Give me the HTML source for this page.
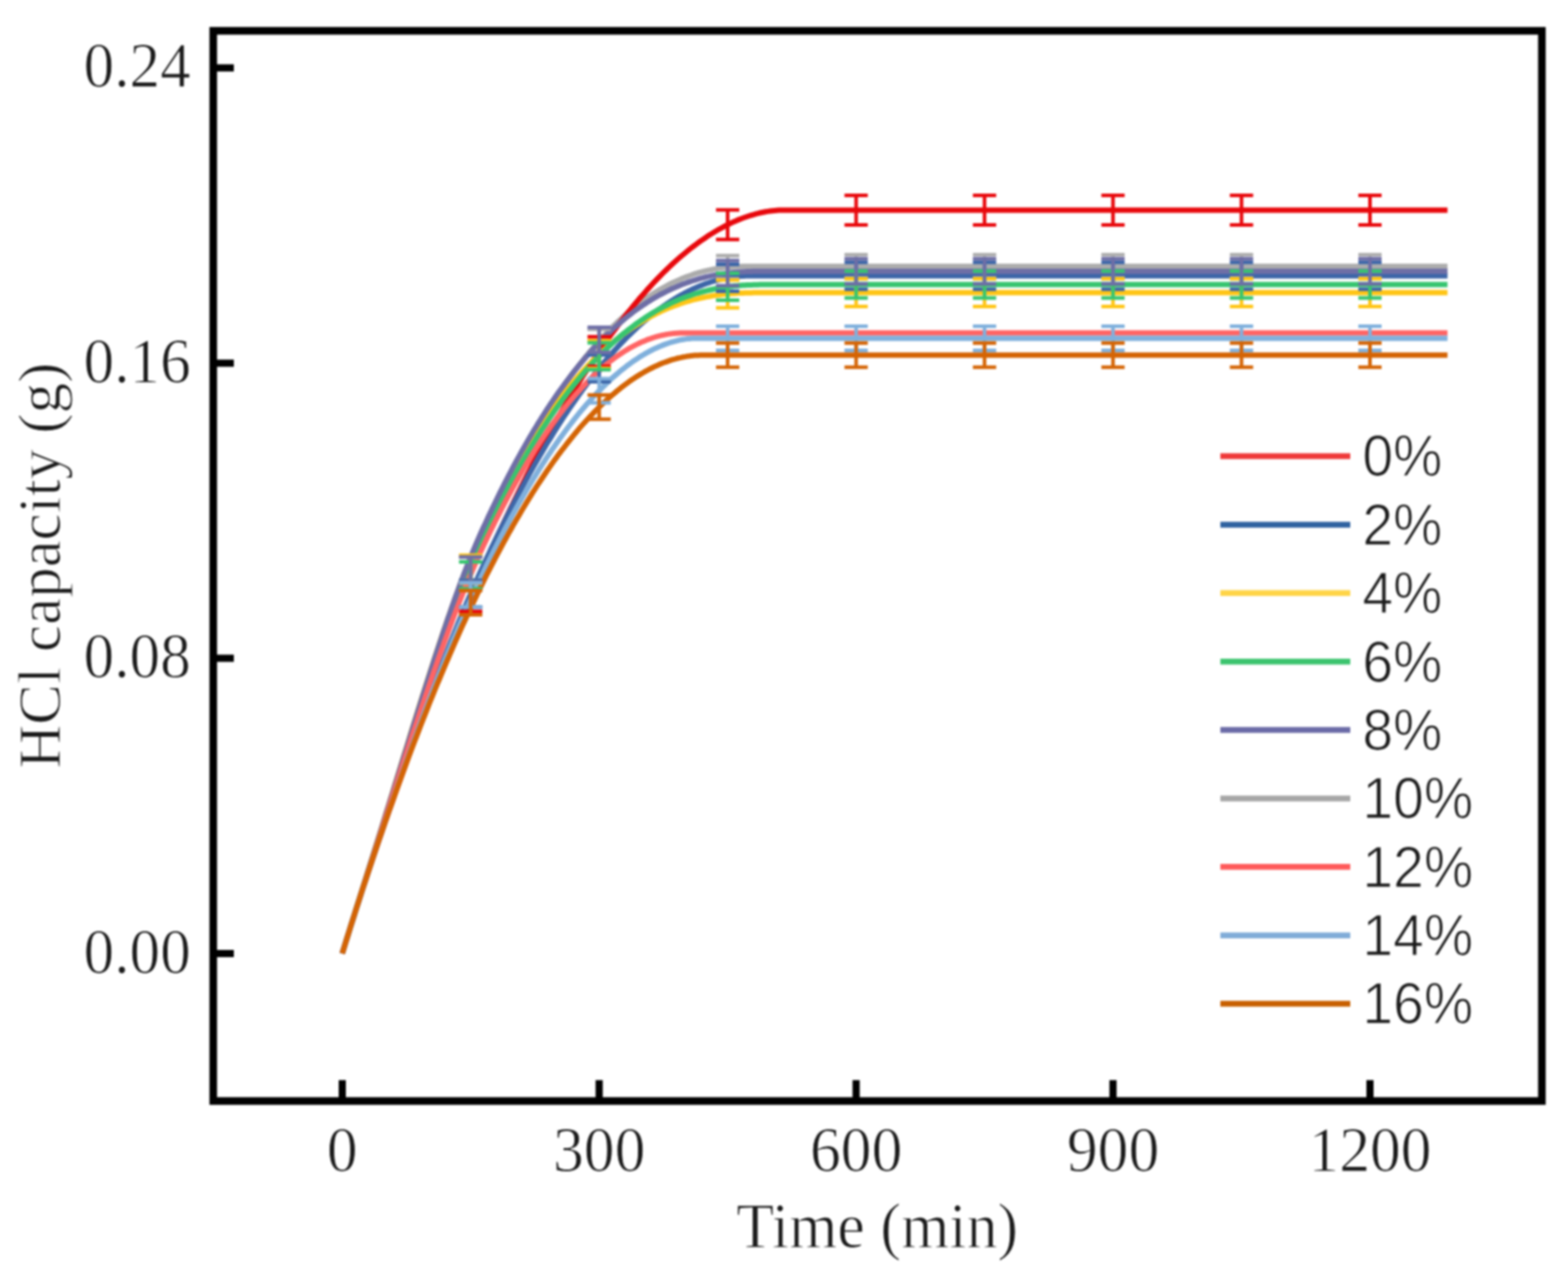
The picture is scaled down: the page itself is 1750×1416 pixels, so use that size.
<!DOCTYPE html>
<html><head><meta charset="utf-8"><title>HCl capacity vs time</title>
<style>html,body{margin:0;padding:0;background:#fff;}body{width:1750px;height:1416px;overflow:hidden;}svg{display:block;filter:blur(0.8px);}</style>
</head><body>
<svg width="1750" height="1416" viewBox="0 0 1750 1416">
<rect x="0" y="0" width="1750" height="1416" fill="#fff"/>
<g fill="none" stroke-linejoin="round" stroke-linecap="butt">
<path d="M382.0,1063.9 L384.2,1056.6 L386.5,1049.3 L388.7,1042.1 L391.0,1034.9 L393.2,1027.7 L395.5,1020.6 L397.8,1013.4 L400.0,1006.3 L402.3,999.2 L404.5,992.1 L406.8,985.0 L409.0,977.9 L411.3,970.8 L413.5,963.7 L415.8,956.6 L418.1,949.5 L420.3,942.5 L422.6,935.4 L424.8,928.3 L427.1,921.2 L429.3,914.1 L431.6,907.0 L433.8,899.9 L436.1,892.8 L438.4,885.7 L440.6,878.6 L442.9,871.5 L445.1,864.4 L447.4,857.3 L449.6,850.2 L451.9,843.1 L454.1,836.0 L456.4,829.0 L458.7,821.9 L460.9,814.8 L463.2,807.8 L465.4,800.8 L467.7,793.7 L469.9,786.7 L472.2,779.8 L474.4,772.8 L476.7,765.9 L479.0,759.0 L481.2,752.1 L483.5,745.3 L485.7,738.5 L488.0,731.7 L490.2,725.0 L492.5,718.3 L494.7,711.7 L497.0,705.1 L499.3,698.6 L501.5,692.2 L503.8,685.8 L506.0,679.4 L508.3,673.2 L510.5,667.0 L512.8,660.9 L515.0,654.8 L517.3,648.9 L519.6,643.0 L521.8,637.2 L524.1,631.5 L526.3,625.9 L528.6,620.4 L530.8,615.1 L533.1,609.8 L535.4,604.6 L537.6,599.5 L539.9,594.5 L542.1,589.5 L544.4,584.5 L546.6,579.6 L548.9,574.7 L551.1,569.9 L553.4,565.1 L555.7,560.4 L557.9,555.7 L560.2,551.1 L562.4,546.5 L564.7,541.9 L566.9,537.4 L569.2,533.0 L571.4,528.6 L573.7,524.2 L576.0,519.9 L578.2,515.6 L580.5,511.4 L582.7,507.2 L585.0,503.1 L587.2,499.0 L589.5,494.9 L591.7,490.9 L594.0,487.0 L596.3,483.1 L598.5,479.2 L600.8,475.4 L603.0,471.6 L605.3,467.8 L607.5,464.2 L609.8,460.5 L612.0,456.9 L614.3,453.3 L616.6,449.8 L618.8,446.3 L621.1,442.9 L623.3,439.5 L625.6,436.2 L627.8,432.9 L630.1,429.6 L632.3,426.4 L634.6,423.3 L636.9,420.1 L639.1,417.0 L641.4,414.0 L643.6,411.0 L645.9,408.0 L648.1,405.1 L650.4,402.3 L652.7,399.4 L654.9,396.6 L657.2,393.9 L659.4,391.2 L661.7,388.5 L663.9,385.9 L666.2,383.3 L668.4,380.8 L670.7,378.3 L673.0,375.8 L675.2,373.4 L677.5,371.1 L679.7,368.7 L682.0,366.4 L684.2,364.2 L686.5,362.0 L688.7,359.8 L691.0,357.7 L693.3,355.6 L695.5,353.6 L697.8,351.5 L700.0,349.6 L702.3,347.6 L704.5,345.8 L706.8,343.9 L709.0,342.1 L711.3,340.3 L713.6,338.6 L715.8,336.9 L718.1,335.2 L720.3,333.6 L722.6,332.0 L724.8,330.5 L727.1,329.0 L729.3,327.5 L731.6,326.1 L733.9,324.7 L736.1,323.4 L738.4,322.1 L740.6,320.8 L742.9,319.5 L745.1,318.3 L747.4,317.2 L749.6,316.0 L751.9,314.9 L754.2,313.9 L756.4,312.9 L758.7,311.9 L760.9,310.9 L763.2,310.0 L765.4,309.1 L767.7,308.3 L770.0,307.5 L772.2,306.7 L774.5,305.9 L776.7,305.2 L779.0,304.5 L781.2,303.9 L783.5,303.3 L785.7,302.7 L788.0,302.2 L790.3,301.6 L792.5,301.2 L794.8,300.7 L797.0,300.3 L799.3,299.9 L801.5,299.5 L803.8,299.2 L806.0,298.9 L808.3,298.6 L810.6,298.4 L812.8,298.1 L815.1,298.0 L817.3,297.8 L819.6,297.7 L821.8,297.5 L824.1,297.5 L826.3,297.4 L828.6,297.3 L830.9,297.3 L833.1,297.3 L1615.5,297.3" stroke="#acacac" stroke-width="6.0"/>
<path d="M382.0,1063.9 L384.4,1055.9 L386.9,1048.0 L389.3,1040.2 L391.8,1032.3 L394.3,1024.6 L396.7,1016.9 L399.2,1009.2 L401.7,1001.6 L404.1,994.0 L406.6,986.4 L409.0,979.0 L411.5,971.5 L414.0,964.1 L416.4,956.8 L418.9,949.5 L421.3,942.2 L423.8,935.0 L426.3,927.8 L428.7,920.6 L431.2,913.5 L433.6,906.5 L436.1,899.5 L438.6,892.5 L441.0,885.5 L443.5,878.6 L446.0,871.7 L448.4,864.9 L450.9,858.1 L453.3,851.3 L455.8,844.5 L458.3,837.8 L460.7,831.1 L463.2,824.5 L465.6,817.9 L468.1,811.3 L470.6,804.7 L473.0,798.1 L475.5,791.6 L477.9,785.1 L480.4,778.7 L482.9,772.2 L485.3,765.8 L487.8,759.4 L490.3,753.1 L492.7,746.7 L495.2,740.4 L497.6,734.2 L500.1,727.9 L502.6,721.7 L505.0,715.5 L507.5,709.4 L509.9,703.2 L512.4,697.2 L514.9,691.1 L517.3,685.1 L519.8,679.1 L522.3,673.2 L524.7,667.3 L527.2,661.5 L529.6,655.7 L532.1,650.0 L534.6,644.3 L537.0,638.7 L539.5,633.1 L541.9,627.5 L544.4,622.0 L546.9,616.5 L549.3,611.1 L551.8,605.7 L554.2,600.3 L556.7,595.0 L559.2,589.7 L561.6,584.5 L564.1,579.2 L566.6,574.1 L569.0,568.9 L571.5,563.8 L573.9,558.8 L576.4,553.7 L578.9,548.7 L581.3,543.8 L583.8,538.8 L586.2,534.0 L588.7,529.1 L591.2,524.3 L593.6,519.5 L596.1,514.8 L598.6,510.1 L601.0,505.5 L603.5,500.8 L605.9,496.3 L608.4,491.7 L610.9,487.2 L613.3,482.7 L615.8,478.3 L618.2,473.9 L620.7,469.6 L623.2,465.2 L625.6,461.0 L628.1,456.7 L630.5,452.5 L633.0,448.4 L635.5,444.2 L637.9,440.1 L640.4,436.1 L642.9,432.1 L645.3,428.1 L647.8,424.2 L650.2,420.3 L652.7,416.4 L655.2,412.6 L657.6,408.8 L660.1,405.1 L662.5,401.4 L665.0,397.7 L667.5,394.1 L669.9,390.5 L672.4,386.9 L674.9,383.4 L677.3,379.9 L679.8,376.5 L682.2,373.1 L684.7,369.7 L687.2,366.4 L689.6,363.1 L692.1,359.9 L694.5,356.7 L697.0,353.5 L699.5,350.4 L701.9,347.3 L704.4,344.3 L706.8,341.3 L709.3,338.3 L711.8,335.4 L714.2,332.5 L716.7,329.7 L719.2,326.9 L721.6,324.1 L724.1,321.4 L726.5,318.7 L729.0,316.0 L731.5,313.4 L733.9,310.9 L736.4,308.3 L738.8,305.9 L741.3,303.4 L743.8,301.0 L746.2,298.6 L748.7,296.3 L751.1,294.0 L753.6,291.8 L756.1,289.6 L758.5,287.4 L761.0,285.3 L763.5,283.2 L765.9,281.2 L768.4,279.2 L770.8,277.2 L773.3,275.3 L775.8,273.5 L778.2,271.6 L780.7,269.8 L783.1,268.1 L785.6,266.4 L788.1,264.7 L790.5,263.1 L793.0,261.5 L795.5,260.0 L797.9,258.5 L800.4,257.0 L802.8,255.6 L805.3,254.3 L807.8,253.0 L810.2,251.7 L812.7,250.4 L815.1,249.3 L817.6,248.1 L820.1,247.0 L822.5,245.9 L825.0,244.9 L827.4,244.0 L829.9,243.0 L832.4,242.2 L834.8,241.3 L837.3,240.5 L839.8,239.8 L842.2,239.1 L844.7,238.4 L847.1,237.8 L849.6,237.3 L852.1,236.8 L854.5,236.3 L857.0,235.9 L859.4,235.5 L861.9,235.2 L864.4,235.0 L866.8,234.8 L869.3,234.6 L871.8,234.5 L874.2,234.5 L1615.5,234.5" stroke="#e8080c" stroke-width="6.0"/>
<path d="M382.0,1063.9 L384.2,1056.5 L386.5,1049.2 L388.8,1041.9 L391.1,1034.7 L393.3,1027.5 L395.6,1020.3 L397.9,1013.2 L400.2,1006.1 L402.4,999.0 L404.7,992.0 L407.0,985.0 L409.3,978.0 L411.5,971.1 L413.8,964.2 L416.1,957.3 L418.4,950.5 L420.6,943.7 L422.9,936.9 L425.2,930.2 L427.5,923.4 L429.7,916.8 L432.0,910.1 L434.3,903.5 L436.6,896.9 L438.8,890.3 L441.1,883.7 L443.4,877.2 L445.7,870.7 L447.9,864.2 L450.2,857.8 L452.5,851.4 L454.8,845.0 L457.0,838.6 L459.3,832.3 L461.6,826.0 L463.9,819.7 L466.1,813.5 L468.4,807.3 L470.7,801.1 L473.0,794.9 L475.2,788.8 L477.5,782.7 L479.8,776.6 L482.1,770.6 L484.3,764.6 L486.6,758.6 L488.9,752.6 L491.2,746.7 L493.4,740.8 L495.7,735.0 L498.0,729.2 L500.3,723.4 L502.5,717.7 L504.8,712.0 L507.1,706.3 L509.4,700.7 L511.6,695.2 L513.9,689.6 L516.2,684.1 L518.5,678.7 L520.7,673.3 L523.0,668.0 L525.3,662.7 L527.6,657.5 L529.8,652.3 L532.1,647.2 L534.4,642.1 L536.7,637.1 L538.9,632.1 L541.2,627.2 L543.5,622.3 L545.8,617.4 L548.0,612.6 L550.3,607.8 L552.6,603.1 L554.9,598.4 L557.1,593.7 L559.4,589.1 L561.7,584.5 L564.0,579.9 L566.2,575.4 L568.5,570.9 L570.8,566.5 L573.0,562.1 L575.3,557.7 L577.6,553.4 L579.9,549.1 L582.1,544.8 L584.4,540.6 L586.7,536.4 L589.0,532.3 L591.2,528.2 L593.5,524.1 L595.8,520.1 L598.1,516.1 L600.3,512.2 L602.6,508.3 L604.9,504.4 L607.2,500.5 L609.4,496.7 L611.7,493.0 L614.0,489.3 L616.3,485.6 L618.5,481.9 L620.8,478.3 L623.1,474.7 L625.4,471.2 L627.6,467.7 L629.9,464.2 L632.2,460.8 L634.5,457.4 L636.7,454.1 L639.0,450.8 L641.3,447.5 L643.6,444.3 L645.8,441.1 L648.1,437.9 L650.4,434.8 L652.7,431.7 L654.9,428.7 L657.2,425.7 L659.5,422.7 L661.8,419.8 L664.0,416.9 L666.3,414.0 L668.6,411.2 L670.9,408.4 L673.1,405.7 L675.4,403.0 L677.7,400.3 L680.0,397.7 L682.2,395.1 L684.5,392.6 L686.8,390.0 L689.1,387.6 L691.3,385.1 L693.6,382.7 L695.9,380.4 L698.2,378.0 L700.4,375.7 L702.7,373.5 L705.0,371.3 L707.3,369.1 L709.5,367.0 L711.8,364.9 L714.1,362.8 L716.4,360.8 L718.6,358.8 L720.9,356.9 L723.2,355.0 L725.5,353.1 L727.7,351.2 L730.0,349.5 L732.3,347.7 L734.6,346.0 L736.8,344.3 L739.1,342.6 L741.4,341.0 L743.7,339.5 L745.9,337.9 L748.2,336.4 L750.5,335.0 L752.8,333.6 L755.0,332.2 L757.3,330.8 L759.6,329.5 L761.9,328.3 L764.1,327.0 L766.4,325.9 L768.7,324.7 L771.0,323.6 L773.2,322.5 L775.5,321.5 L777.8,320.5 L780.1,319.5 L782.3,318.6 L784.6,317.7 L786.9,316.8 L789.2,316.0 L791.4,315.3 L793.7,314.5 L796.0,313.8 L798.3,313.2 L800.5,312.5 L802.8,311.9 L805.1,311.4 L807.4,310.9 L809.6,310.4 L811.9,310.0 L814.2,309.6 L816.5,309.2 L818.7,308.9 L821.0,308.6 L823.3,308.4 L825.6,308.2 L827.8,308.0 L830.1,307.9 L832.4,307.8 L834.7,307.7 L836.9,307.7 L1615.5,307.7" stroke="#3d66a8" stroke-width="6.0"/>
<path d="M382.0,1063.9 L384.3,1056.3 L386.6,1048.8 L389.0,1041.3 L391.3,1033.8 L393.7,1026.3 L396.0,1018.9 L398.4,1011.4 L400.7,1004.0 L403.0,996.6 L405.4,989.1 L407.7,981.7 L410.1,974.2 L412.4,966.8 L414.7,959.3 L417.1,951.9 L419.4,944.4 L421.8,936.9 L424.1,929.4 L426.5,921.9 L428.8,914.3 L431.1,906.8 L433.5,899.3 L435.8,891.7 L438.2,884.1 L440.5,876.6 L442.8,869.0 L445.2,861.4 L447.5,853.8 L449.9,846.2 L452.2,838.7 L454.6,831.1 L456.9,823.5 L459.2,816.0 L461.6,808.5 L463.9,801.0 L466.3,793.5 L468.6,786.0 L470.9,778.6 L473.3,771.2 L475.6,763.8 L478.0,756.5 L480.3,749.2 L482.7,741.9 L485.0,734.7 L487.3,727.6 L489.7,720.5 L492.0,713.5 L494.4,706.6 L496.7,699.7 L499.0,692.9 L501.4,686.2 L503.7,679.5 L506.1,673.0 L508.4,666.5 L510.8,660.2 L513.1,653.9 L515.4,647.7 L517.8,641.7 L520.1,635.7 L522.5,629.9 L524.8,624.2 L527.2,618.6 L529.5,613.1 L531.8,607.8 L534.2,602.6 L536.5,597.5 L538.9,592.5 L541.2,587.5 L543.5,582.6 L545.9,577.7 L548.2,572.9 L550.6,568.2 L552.9,563.5 L555.3,558.9 L557.6,554.3 L559.9,549.8 L562.3,545.3 L564.6,540.9 L567.0,536.5 L569.3,532.2 L571.6,527.9 L574.0,523.7 L576.3,519.6 L578.7,515.5 L581.0,511.4 L583.4,507.4 L585.7,503.5 L588.0,499.6 L590.4,495.8 L592.7,492.0 L595.1,488.3 L597.4,484.6 L599.7,480.9 L602.1,477.4 L604.4,473.8 L606.8,470.4 L609.1,466.9 L611.5,463.5 L613.8,460.2 L616.1,456.9 L618.5,453.7 L620.8,450.5 L623.2,447.4 L625.5,444.3 L627.8,441.2 L630.2,438.2 L632.5,435.3 L634.9,432.4 L637.2,429.5 L639.6,426.7 L641.9,424.0 L644.2,421.3 L646.6,418.6 L648.9,416.0 L651.3,413.4 L653.6,410.9 L655.9,408.4 L658.3,405.9 L660.6,403.6 L663.0,401.2 L665.3,398.9 L667.7,396.6 L670.0,394.4 L672.3,392.2 L674.7,390.1 L677.0,388.0 L679.4,385.9 L681.7,383.9 L684.1,381.9 L686.4,380.0 L688.7,378.1 L691.1,376.3 L693.4,374.5 L695.8,372.7 L698.1,371.0 L700.4,369.3 L702.8,367.6 L705.1,366.0 L707.5,364.5 L709.8,362.9 L712.2,361.4 L714.5,360.0 L716.8,358.6 L719.2,357.2 L721.5,355.8 L723.9,354.5 L726.2,353.2 L728.5,352.0 L730.9,350.8 L733.2,349.6 L735.6,348.5 L737.9,347.4 L740.3,346.3 L742.6,345.3 L744.9,344.3 L747.3,343.3 L749.6,342.4 L752.0,341.5 L754.3,340.6 L756.6,339.8 L759.0,339.0 L761.3,338.2 L763.7,337.4 L766.0,336.7 L768.4,336.0 L770.7,335.4 L773.0,334.7 L775.4,334.1 L777.7,333.6 L780.1,333.0 L782.4,332.5 L784.7,332.0 L787.1,331.5 L789.4,331.1 L791.8,330.7 L794.1,330.3 L796.5,329.9 L798.8,329.5 L801.1,329.2 L803.5,328.9 L805.8,328.6 L808.2,328.4 L810.5,328.1 L812.8,327.9 L815.2,327.7 L817.5,327.5 L819.9,327.4 L822.2,327.2 L824.6,327.1 L826.9,327.0 L829.2,326.9 L831.6,326.8 L833.9,326.8 L836.3,326.7 L838.6,326.7 L840.9,326.6 L843.3,326.6 L845.6,326.6 L848.0,326.6 L850.3,326.6 L1615.5,326.6" stroke="#ffc515" stroke-width="6.0"/>
<path d="M382.0,1063.9 L384.3,1056.2 L386.7,1048.6 L389.1,1041.1 L391.4,1033.5 L393.8,1026.0 L396.2,1018.5 L398.5,1011.0 L400.9,1003.5 L403.3,996.0 L405.6,988.6 L408.0,981.1 L410.3,973.7 L412.7,966.2 L415.1,958.8 L417.4,951.3 L419.8,943.9 L422.2,936.4 L424.5,929.0 L426.9,921.5 L429.3,914.1 L431.6,906.6 L434.0,899.2 L436.4,891.7 L438.7,884.3 L441.1,876.8 L443.5,869.4 L445.8,861.9 L448.2,854.5 L450.6,847.1 L452.9,839.6 L455.3,832.2 L457.7,824.8 L460.0,817.5 L462.4,810.1 L464.8,802.8 L467.1,795.5 L469.5,788.2 L471.9,780.9 L474.2,773.7 L476.6,766.5 L479.0,759.4 L481.3,752.3 L483.7,745.2 L486.0,738.2 L488.4,731.2 L490.8,724.3 L493.1,717.5 L495.5,710.7 L497.9,704.0 L500.2,697.3 L502.6,690.7 L505.0,684.2 L507.3,677.8 L509.7,671.5 L512.1,665.2 L514.4,659.1 L516.8,653.0 L519.2,647.0 L521.5,641.1 L523.9,635.4 L526.3,629.7 L528.6,624.1 L531.0,618.7 L533.4,613.4 L535.7,608.2 L538.1,603.0 L540.5,597.9 L542.8,592.9 L545.2,587.9 L547.6,583.0 L549.9,578.1 L552.3,573.3 L554.7,568.5 L557.0,563.8 L559.4,559.2 L561.8,554.6 L564.1,550.0 L566.5,545.5 L568.8,541.0 L571.2,536.6 L573.6,532.3 L575.9,528.0 L578.3,523.7 L580.7,519.5 L583.0,515.4 L585.4,511.3 L587.8,507.2 L590.1,503.2 L592.5,499.3 L594.9,495.3 L597.2,491.5 L599.6,487.7 L602.0,483.9 L604.3,480.2 L606.7,476.6 L609.1,473.0 L611.4,469.4 L613.8,465.9 L616.2,462.4 L618.5,459.0 L620.9,455.6 L623.3,452.3 L625.6,449.0 L628.0,445.8 L630.4,442.6 L632.7,439.5 L635.1,436.4 L637.5,433.4 L639.8,430.4 L642.2,427.4 L644.6,424.5 L646.9,421.6 L649.3,418.8 L651.6,416.1 L654.0,413.3 L656.4,410.7 L658.7,408.0 L661.1,405.4 L663.5,402.9 L665.8,400.4 L668.2,397.9 L670.6,395.5 L672.9,393.1 L675.3,390.8 L677.7,388.5 L680.0,386.3 L682.4,384.0 L684.8,381.9 L687.1,379.8 L689.5,377.7 L691.9,375.6 L694.2,373.6 L696.6,371.7 L699.0,369.8 L701.3,367.9 L703.7,366.1 L706.1,364.3 L708.4,362.5 L710.8,360.8 L713.2,359.1 L715.5,357.5 L717.9,355.9 L720.3,354.3 L722.6,352.8 L725.0,351.3 L727.3,349.8 L729.7,348.4 L732.1,347.0 L734.4,345.7 L736.8,344.4 L739.2,343.1 L741.5,341.9 L743.9,340.7 L746.3,339.5 L748.6,338.4 L751.0,337.3 L753.4,336.3 L755.7,335.2 L758.1,334.2 L760.5,333.3 L762.8,332.4 L765.2,331.5 L767.6,330.6 L769.9,329.8 L772.3,329.0 L774.7,328.2 L777.0,327.5 L779.4,326.8 L781.8,326.1 L784.1,325.5 L786.5,324.9 L788.9,324.3 L791.2,323.7 L793.6,323.2 L796.0,322.7 L798.3,322.2 L800.7,321.8 L803.1,321.3 L805.4,321.0 L807.8,320.6 L810.1,320.2 L812.5,319.9 L814.9,319.6 L817.2,319.4 L819.6,319.1 L822.0,318.9 L824.3,318.7 L826.7,318.5 L829.1,318.3 L831.4,318.2 L833.8,318.0 L836.2,317.9 L838.5,317.9 L840.9,317.8 L843.3,317.7 L845.6,317.7 L848.0,317.6 L850.4,317.6 L852.7,317.6 L855.1,317.6 L1615.5,317.6" stroke="#37c56f" stroke-width="6.0"/>
<path d="M382.0,1063.9 L384.3,1056.3 L386.7,1048.7 L389.0,1041.2 L391.4,1033.7 L393.7,1026.2 L396.1,1018.7 L398.4,1011.2 L400.8,1003.8 L403.1,996.3 L405.5,988.9 L407.8,981.4 L410.2,974.0 L412.5,966.5 L414.9,959.0 L417.2,951.6 L419.6,944.1 L421.9,936.6 L424.3,929.1 L426.6,921.6 L429.0,914.0 L431.3,906.5 L433.7,898.9 L436.0,891.4 L438.4,883.8 L440.7,876.2 L443.1,868.6 L445.4,861.0 L447.8,853.5 L450.1,845.9 L452.5,838.3 L454.9,830.7 L457.2,823.1 L459.6,815.5 L461.9,808.0 L464.3,800.4 L466.6,792.9 L469.0,785.4 L471.3,777.9 L473.7,770.5 L476.0,763.1 L478.4,755.7 L480.7,748.3 L483.1,741.0 L485.4,733.7 L487.8,726.5 L490.1,719.4 L492.5,712.3 L494.8,705.2 L497.2,698.2 L499.5,691.3 L501.9,684.5 L504.2,677.8 L506.6,671.1 L508.9,664.5 L511.3,658.0 L513.6,651.6 L516.0,645.3 L518.3,639.1 L520.7,633.0 L523.0,627.1 L525.4,621.2 L527.7,615.5 L530.1,609.9 L532.4,604.4 L534.8,599.1 L537.1,593.8 L539.5,588.6 L541.9,583.5 L544.2,578.4 L546.6,573.4 L548.9,568.4 L551.3,563.5 L553.6,558.7 L556.0,553.8 L558.3,549.1 L560.7,544.4 L563.0,539.7 L565.4,535.1 L567.7,530.6 L570.1,526.1 L572.4,521.7 L574.8,517.3 L577.1,512.9 L579.5,508.6 L581.8,504.4 L584.2,500.2 L586.5,496.1 L588.9,492.0 L591.2,488.0 L593.6,484.0 L595.9,480.1 L598.3,476.2 L600.6,472.4 L603.0,468.6 L605.3,464.8 L607.7,461.2 L610.0,457.5 L612.4,453.9 L614.7,450.4 L617.1,446.9 L619.4,443.5 L621.8,440.1 L624.1,436.8 L626.5,433.5 L628.9,430.2 L631.2,427.0 L633.6,423.9 L635.9,420.8 L638.3,417.7 L640.6,414.7 L643.0,411.7 L645.3,408.8 L647.7,406.0 L650.0,403.1 L652.4,400.3 L654.7,397.6 L657.1,394.9 L659.4,392.3 L661.8,389.7 L664.1,387.1 L666.5,384.6 L668.8,382.1 L671.2,379.7 L673.5,377.3 L675.9,375.0 L678.2,372.7 L680.6,370.5 L682.9,368.3 L685.3,366.1 L687.6,364.0 L690.0,361.9 L692.3,359.9 L694.7,357.9 L697.0,355.9 L699.4,354.0 L701.7,352.1 L704.1,350.3 L706.4,348.5 L708.8,346.7 L711.1,345.0 L713.5,343.4 L715.9,341.7 L718.2,340.1 L720.6,338.6 L722.9,337.1 L725.3,335.6 L727.6,334.1 L730.0,332.7 L732.3,331.4 L734.7,330.0 L737.0,328.7 L739.4,327.5 L741.7,326.3 L744.1,325.1 L746.4,323.9 L748.8,322.8 L751.1,321.7 L753.5,320.7 L755.8,319.7 L758.2,318.7 L760.5,317.8 L762.9,316.8 L765.2,316.0 L767.6,315.1 L769.9,314.3 L772.3,313.5 L774.6,312.8 L777.0,312.1 L779.3,311.4 L781.7,310.7 L784.0,310.1 L786.4,309.5 L788.7,308.9 L791.1,308.4 L793.4,307.9 L795.8,307.4 L798.1,306.9 L800.5,306.5 L802.9,306.1 L805.2,305.7 L807.6,305.4 L809.9,305.1 L812.3,304.8 L814.6,304.5 L817.0,304.2 L819.3,304.0 L821.7,303.8 L824.0,303.6 L826.4,303.4 L828.7,303.3 L831.1,303.2 L833.4,303.0 L835.8,303.0 L838.1,302.9 L840.5,302.8 L842.8,302.8 L845.2,302.7 L847.5,302.7 L849.9,302.7 L852.2,302.7 L1615.5,302.7" stroke="#6e6ea6" stroke-width="6.0"/>
<path d="M382.0,1063.9 L383.9,1057.7 L385.8,1051.6 L387.7,1045.5 L389.6,1039.4 L391.5,1033.4 L393.4,1027.3 L395.3,1021.3 L397.2,1015.3 L399.1,1009.3 L401.0,1003.3 L402.9,997.3 L404.8,991.4 L406.7,985.4 L408.6,979.5 L410.5,973.5 L412.4,967.6 L414.3,961.7 L416.2,955.8 L418.1,949.9 L420.0,944.0 L421.9,938.1 L423.8,932.2 L425.7,926.3 L427.6,920.4 L429.5,914.5 L431.4,908.7 L433.3,902.8 L435.2,896.9 L437.1,891.1 L439.0,885.2 L440.9,879.4 L442.8,873.5 L444.7,867.7 L446.6,861.9 L448.5,856.1 L450.4,850.3 L452.3,844.5 L454.2,838.7 L456.1,832.9 L458.0,827.1 L459.9,821.4 L461.8,815.7 L463.8,809.9 L465.7,804.2 L467.6,798.5 L469.5,792.9 L471.4,787.2 L473.3,781.6 L475.2,776.0 L477.1,770.4 L479.0,764.8 L480.9,759.3 L482.8,753.8 L484.7,748.3 L486.6,742.9 L488.5,737.4 L490.4,732.1 L492.3,726.7 L494.2,721.4 L496.1,716.1 L498.0,710.9 L499.9,705.7 L501.8,700.5 L503.7,695.4 L505.6,690.3 L507.5,685.3 L509.4,680.3 L511.3,675.4 L513.2,670.5 L515.1,665.7 L517.0,660.9 L518.9,656.2 L520.8,651.6 L522.7,647.0 L524.6,642.5 L526.5,638.0 L528.4,633.6 L530.3,629.2 L532.2,625.0 L534.1,620.8 L536.0,616.6 L537.9,612.5 L539.8,608.5 L541.7,604.4 L543.6,600.4 L545.5,596.5 L547.4,592.5 L549.3,588.6 L551.2,584.8 L553.1,581.0 L555.1,577.2 L557.0,573.4 L558.9,569.7 L560.8,566.0 L562.7,562.3 L564.6,558.7 L566.5,555.1 L568.4,551.6 L570.3,548.1 L572.2,544.6 L574.1,541.2 L576.0,537.7 L577.9,534.4 L579.8,531.0 L581.7,527.7 L583.6,524.5 L585.5,521.2 L587.4,518.0 L589.3,514.8 L591.2,511.7 L593.1,508.6 L595.0,505.6 L596.9,502.5 L598.8,499.5 L600.7,496.6 L602.6,493.6 L604.5,490.8 L606.4,487.9 L608.3,485.1 L610.2,482.3 L612.1,479.5 L614.0,476.8 L615.9,474.1 L617.8,471.5 L619.7,468.9 L621.6,466.3 L623.5,463.7 L625.4,461.2 L627.3,458.8 L629.2,456.3 L631.1,453.9 L633.0,451.5 L634.9,449.2 L636.8,446.9 L638.7,444.6 L640.6,442.4 L642.5,440.2 L644.5,438.0 L646.4,435.9 L648.3,433.8 L650.2,431.8 L652.1,429.7 L654.0,427.7 L655.9,425.8 L657.8,423.9 L659.7,422.0 L661.6,420.1 L663.5,418.3 L665.4,416.5 L667.3,414.8 L669.2,413.1 L671.1,411.4 L673.0,409.7 L674.9,408.1 L676.8,406.6 L678.7,405.0 L680.6,403.5 L682.5,402.0 L684.4,400.6 L686.3,399.2 L688.2,397.8 L690.1,396.5 L692.0,395.2 L693.9,393.9 L695.8,392.7 L697.7,391.5 L699.6,390.4 L701.5,389.2 L703.4,388.1 L705.3,387.1 L707.2,386.1 L709.1,385.1 L711.0,384.1 L712.9,383.2 L714.8,382.3 L716.7,381.5 L718.6,380.7 L720.5,379.9 L722.4,379.1 L724.3,378.4 L726.2,377.8 L728.1,377.1 L730.0,376.5 L731.9,375.9 L733.8,375.4 L735.8,374.9 L737.7,374.4 L739.6,374.0 L741.5,373.6 L743.4,373.2 L745.3,372.9 L747.2,372.6 L749.1,372.4 L751.0,372.1 L752.9,371.9 L754.8,371.8 L756.7,371.7 L758.6,371.6 L760.5,371.5 L762.4,371.5 L1615.5,371.5" stroke="#ff6464" stroke-width="6.0"/>
<path d="M382.0,1063.9 L383.9,1057.5 L385.9,1051.2 L387.9,1044.8 L389.9,1038.5 L391.8,1032.3 L393.8,1026.0 L395.8,1019.8 L397.8,1013.6 L399.7,1007.5 L401.7,1001.3 L403.7,995.2 L405.6,989.2 L407.6,983.1 L409.6,977.1 L411.6,971.1 L413.5,965.1 L415.5,959.2 L417.5,953.2 L419.5,947.3 L421.4,941.5 L423.4,935.6 L425.4,929.8 L427.4,924.0 L429.3,918.2 L431.3,912.5 L433.3,906.7 L435.3,901.0 L437.2,895.4 L439.2,889.7 L441.2,884.1 L443.1,878.5 L445.1,872.9 L447.1,867.4 L449.1,861.8 L451.0,856.3 L453.0,850.8 L455.0,845.4 L457.0,840.0 L458.9,834.5 L460.9,829.2 L462.9,823.8 L464.9,818.5 L466.8,813.2 L468.8,807.9 L470.8,802.6 L472.8,797.4 L474.7,792.2 L476.7,787.0 L478.7,781.9 L480.6,776.8 L482.6,771.7 L484.6,766.6 L486.6,761.6 L488.5,756.5 L490.5,751.6 L492.5,746.6 L494.5,741.7 L496.4,736.8 L498.4,731.9 L500.4,727.1 L502.4,722.3 L504.3,717.5 L506.3,712.8 L508.3,708.1 L510.3,703.4 L512.2,698.7 L514.2,694.1 L516.2,689.6 L518.2,685.0 L520.1,680.5 L522.1,676.1 L524.1,671.6 L526.0,667.2 L528.0,662.9 L530.0,658.6 L532.0,654.3 L533.9,650.1 L535.9,645.9 L537.9,641.7 L539.9,637.6 L541.8,633.5 L543.8,629.4 L545.8,625.3 L547.8,621.3 L549.7,617.4 L551.7,613.4 L553.7,609.5 L555.7,605.6 L557.6,601.8 L559.6,597.9 L561.6,594.1 L563.5,590.4 L565.5,586.7 L567.5,583.0 L569.5,579.3 L571.4,575.7 L573.4,572.1 L575.4,568.5 L577.4,564.9 L579.3,561.4 L581.3,557.9 L583.3,554.5 L585.3,551.1 L587.2,547.7 L589.2,544.3 L591.2,541.0 L593.2,537.7 L595.1,534.5 L597.1,531.3 L599.1,528.1 L601.1,524.9 L603.0,521.8 L605.0,518.7 L607.0,515.6 L608.9,512.6 L610.9,509.6 L612.9,506.6 L614.9,503.7 L616.8,500.7 L618.8,497.9 L620.8,495.0 L622.8,492.2 L624.7,489.4 L626.7,486.7 L628.7,484.0 L630.7,481.3 L632.6,478.7 L634.6,476.0 L636.6,473.5 L638.6,470.9 L640.5,468.4 L642.5,465.9 L644.5,463.4 L646.4,461.0 L648.4,458.6 L650.4,456.3 L652.4,454.0 L654.3,451.7 L656.3,449.4 L658.3,447.2 L660.3,445.0 L662.2,442.8 L664.2,440.7 L666.2,438.6 L668.2,436.6 L670.1,434.6 L672.1,432.6 L674.1,430.6 L676.1,428.7 L678.0,426.8 L680.0,424.9 L682.0,423.1 L683.9,421.3 L685.9,419.6 L687.9,417.9 L689.9,416.2 L691.8,414.5 L693.8,412.9 L695.8,411.3 L697.8,409.8 L699.7,408.2 L701.7,406.8 L703.7,405.3 L705.7,403.9 L707.6,402.5 L709.6,401.2 L711.6,399.9 L713.6,398.6 L715.5,397.4 L717.5,396.2 L719.5,395.0 L721.5,393.9 L723.4,392.8 L725.4,391.7 L727.4,390.7 L729.3,389.7 L731.3,388.8 L733.3,387.9 L735.3,387.0 L737.2,386.2 L739.2,385.4 L741.2,384.6 L743.2,383.9 L745.1,383.2 L747.1,382.5 L749.1,381.9 L751.1,381.3 L753.0,380.8 L755.0,380.3 L757.0,379.8 L759.0,379.4 L760.9,379.0 L762.9,378.7 L764.9,378.4 L766.8,378.1 L768.8,377.9 L770.8,377.7 L772.8,377.6 L774.7,377.5 L776.7,377.5 L1615.5,377.5" stroke="#80b0dc" stroke-width="6.0"/>
<path d="M382.0,1063.9 L384.0,1057.4 L386.0,1050.9 L388.0,1044.5 L390.0,1038.1 L392.0,1031.7 L394.0,1025.4 L396.0,1019.1 L398.0,1012.8 L400.0,1006.6 L402.0,1000.4 L404.0,994.2 L406.0,988.0 L408.1,981.9 L410.1,975.8 L412.1,969.7 L414.1,963.7 L416.1,957.7 L418.1,951.8 L420.1,945.8 L422.1,939.9 L424.1,934.0 L426.1,928.2 L428.1,922.4 L430.1,916.6 L432.1,910.9 L434.1,905.1 L436.2,899.4 L438.2,893.8 L440.2,888.2 L442.2,882.6 L444.2,877.0 L446.2,871.5 L448.2,866.0 L450.2,860.5 L452.2,855.1 L454.2,849.7 L456.2,844.3 L458.2,838.9 L460.2,833.6 L462.2,828.4 L464.3,823.1 L466.3,817.9 L468.3,812.7 L470.3,807.5 L472.3,802.4 L474.3,797.3 L476.3,792.3 L478.3,787.2 L480.3,782.2 L482.3,777.3 L484.3,772.3 L486.3,767.4 L488.3,762.5 L490.4,757.7 L492.4,752.9 L494.4,748.1 L496.4,743.4 L498.4,738.6 L500.4,734.0 L502.4,729.3 L504.4,724.7 L506.4,720.1 L508.4,715.5 L510.4,711.0 L512.4,706.5 L514.4,702.0 L516.4,697.6 L518.5,693.2 L520.5,688.8 L522.5,684.5 L524.5,680.2 L526.5,675.9 L528.5,671.7 L530.5,667.5 L532.5,663.3 L534.5,659.1 L536.5,655.0 L538.5,650.9 L540.5,646.9 L542.5,642.8 L544.5,638.9 L546.6,634.9 L548.6,631.0 L550.6,627.1 L552.6,623.2 L554.6,619.4 L556.6,615.6 L558.6,611.8 L560.6,608.1 L562.6,604.4 L564.6,600.7 L566.6,597.1 L568.6,593.4 L570.6,589.9 L572.6,586.3 L574.7,582.8 L576.7,579.3 L578.7,575.9 L580.7,572.5 L582.7,569.1 L584.7,565.7 L586.7,562.4 L588.7,559.1 L590.7,555.9 L592.7,552.6 L594.7,549.4 L596.7,546.3 L598.7,543.1 L600.7,540.1 L602.8,537.0 L604.8,534.0 L606.8,531.0 L608.8,528.0 L610.8,525.0 L612.8,522.1 L614.8,519.3 L616.8,516.4 L618.8,513.6 L620.8,510.9 L622.8,508.1 L624.8,505.4 L626.8,502.7 L628.9,500.1 L630.9,497.5 L632.9,494.9 L634.9,492.3 L636.9,489.8 L638.9,487.3 L640.9,484.9 L642.9,482.5 L644.9,480.1 L646.9,477.7 L648.9,475.4 L650.9,473.1 L652.9,470.9 L654.9,468.7 L657.0,466.5 L659.0,464.3 L661.0,462.2 L663.0,460.1 L665.0,458.0 L667.0,456.0 L669.0,454.0 L671.0,452.1 L673.0,450.1 L675.0,448.2 L677.0,446.4 L679.0,444.6 L681.0,442.8 L683.0,441.0 L685.1,439.3 L687.1,437.6 L689.1,435.9 L691.1,434.3 L693.1,432.7 L695.1,431.1 L697.1,429.6 L699.1,428.1 L701.1,426.7 L703.1,425.2 L705.1,423.8 L707.1,422.5 L709.1,421.1 L711.1,419.9 L713.2,418.6 L715.2,417.4 L717.2,416.2 L719.2,415.0 L721.2,413.9 L723.2,412.8 L725.2,411.7 L727.2,410.7 L729.2,409.7 L731.2,408.8 L733.2,407.9 L735.2,407.0 L737.2,406.1 L739.2,405.3 L741.3,404.5 L743.3,403.8 L745.3,403.1 L747.3,402.4 L749.3,401.7 L751.3,401.1 L753.3,400.6 L755.3,400.0 L757.3,399.5 L759.3,399.1 L761.3,398.6 L763.3,398.2 L765.3,397.9 L767.4,397.5 L769.4,397.3 L771.4,397.0 L773.4,396.8 L775.4,396.6 L777.4,396.5 L779.4,396.4 L781.4,396.3 L783.4,396.3 L1615.5,396.3" stroke="#d46404" stroke-width="6.0"/>
</g>
<g fill="none" stroke-linecap="butt">
<path d="M525.3,621.4 V647.4 M512.3,621.4 H538.3 M512.3,647.4 H538.3" stroke="#acacac" stroke-width="4.0"/>
<path d="M668.7,367.5 V393.5 M655.7,367.5 H681.7 M655.7,393.5 H681.7" stroke="#acacac" stroke-width="4.0"/>
<path d="M812.1,285.2 V311.2 M799.1,285.2 H825.1 M799.1,311.2 H825.1" stroke="#acacac" stroke-width="4.0"/>
<path d="M955.5,284.3 V310.3 M942.5,284.3 H968.5 M942.5,310.3 H968.5" stroke="#acacac" stroke-width="4.0"/>
<path d="M1098.8,284.3 V310.3 M1085.8,284.3 H1111.8 M1085.8,310.3 H1111.8" stroke="#acacac" stroke-width="4.0"/>
<path d="M1242.2,284.3 V310.3 M1229.2,284.3 H1255.2 M1229.2,310.3 H1255.2" stroke="#acacac" stroke-width="4.0"/>
<path d="M1385.6,284.3 V310.3 M1372.6,284.3 H1398.6 M1372.6,310.3 H1398.6" stroke="#acacac" stroke-width="4.0"/>
<path d="M1529.0,284.3 V310.3 M1516.0,284.3 H1542.0 M1516.0,310.3 H1542.0" stroke="#acacac" stroke-width="4.0"/>
<path d="M525.3,649.3 V682.3 M512.3,649.3 H538.3 M512.3,682.3 H538.3" stroke="#e8080c" stroke-width="4.0"/>
<path d="M668.7,375.7 V408.7 M655.7,375.7 H681.7 M655.7,408.7 H681.7" stroke="#e8080c" stroke-width="4.0"/>
<path d="M812.1,234.2 V267.2 M799.1,234.2 H825.1 M799.1,267.2 H825.1" stroke="#e8080c" stroke-width="4.0"/>
<path d="M955.5,218.0 V251.0 M942.5,218.0 H968.5 M942.5,251.0 H968.5" stroke="#e8080c" stroke-width="4.0"/>
<path d="M1098.8,218.0 V251.0 M1085.8,218.0 H1111.8 M1085.8,251.0 H1111.8" stroke="#e8080c" stroke-width="4.0"/>
<path d="M1242.2,218.0 V251.0 M1229.2,218.0 H1255.2 M1229.2,251.0 H1255.2" stroke="#e8080c" stroke-width="4.0"/>
<path d="M1385.6,218.0 V251.0 M1372.6,218.0 H1398.6 M1372.6,251.0 H1398.6" stroke="#e8080c" stroke-width="4.0"/>
<path d="M1529.0,218.0 V251.0 M1516.0,218.0 H1542.0 M1516.0,251.0 H1542.0" stroke="#e8080c" stroke-width="4.0"/>
<path d="M525.3,647.6 V677.6 M512.3,647.6 H538.3 M512.3,677.6 H538.3" stroke="#3d66a8" stroke-width="4.0"/>
<path d="M668.7,396.1 V426.1 M655.7,396.1 H681.7 M655.7,426.1 H681.7" stroke="#3d66a8" stroke-width="4.0"/>
<path d="M812.1,294.9 V324.9 M799.1,294.9 H825.1 M799.1,324.9 H825.1" stroke="#3d66a8" stroke-width="4.0"/>
<path d="M955.5,292.7 V322.7 M942.5,292.7 H968.5 M942.5,322.7 H968.5" stroke="#3d66a8" stroke-width="4.0"/>
<path d="M1098.8,292.7 V322.7 M1085.8,292.7 H1111.8 M1085.8,322.7 H1111.8" stroke="#3d66a8" stroke-width="4.0"/>
<path d="M1242.2,292.7 V322.7 M1229.2,292.7 H1255.2 M1229.2,322.7 H1255.2" stroke="#3d66a8" stroke-width="4.0"/>
<path d="M1385.6,292.7 V322.7 M1372.6,292.7 H1398.6 M1372.6,322.7 H1398.6" stroke="#3d66a8" stroke-width="4.0"/>
<path d="M1529.0,292.7 V322.7 M1516.0,292.7 H1542.0 M1516.0,322.7 H1542.0" stroke="#3d66a8" stroke-width="4.0"/>
<path d="M525.3,619.4 V650.4 M512.3,619.4 H538.3 M512.3,650.4 H538.3" stroke="#ffc515" stroke-width="4.0"/>
<path d="M668.7,380.1 V411.1 M655.7,380.1 H681.7 M655.7,411.1 H681.7" stroke="#ffc515" stroke-width="4.0"/>
<path d="M812.1,312.5 V343.5 M799.1,312.5 H825.1 M799.1,343.5 H825.1" stroke="#ffc515" stroke-width="4.0"/>
<path d="M955.5,311.1 V342.1 M942.5,311.1 H968.5 M942.5,342.1 H968.5" stroke="#ffc515" stroke-width="4.0"/>
<path d="M1098.8,311.1 V342.1 M1085.8,311.1 H1111.8 M1085.8,342.1 H1111.8" stroke="#ffc515" stroke-width="4.0"/>
<path d="M1242.2,311.1 V342.1 M1229.2,311.1 H1255.2 M1229.2,342.1 H1255.2" stroke="#ffc515" stroke-width="4.0"/>
<path d="M1385.6,311.1 V342.1 M1372.6,311.1 H1398.6 M1372.6,342.1 H1398.6" stroke="#ffc515" stroke-width="4.0"/>
<path d="M1529.0,311.1 V342.1 M1516.0,311.1 H1542.0 M1516.0,342.1 H1542.0" stroke="#ffc515" stroke-width="4.0"/>
<path d="M525.3,626.9 V656.9 M512.3,626.9 H538.3 M512.3,656.9 H538.3" stroke="#37c56f" stroke-width="4.0"/>
<path d="M668.7,382.4 V412.4 M655.7,382.4 H681.7 M655.7,412.4 H681.7" stroke="#37c56f" stroke-width="4.0"/>
<path d="M812.1,305.0 V335.0 M799.1,305.0 H825.1 M799.1,335.0 H825.1" stroke="#37c56f" stroke-width="4.0"/>
<path d="M955.5,302.6 V332.6 M942.5,302.6 H968.5 M942.5,332.6 H968.5" stroke="#37c56f" stroke-width="4.0"/>
<path d="M1098.8,302.6 V332.6 M1085.8,302.6 H1111.8 M1085.8,332.6 H1111.8" stroke="#37c56f" stroke-width="4.0"/>
<path d="M1242.2,302.6 V332.6 M1229.2,302.6 H1255.2 M1229.2,332.6 H1255.2" stroke="#37c56f" stroke-width="4.0"/>
<path d="M1385.6,302.6 V332.6 M1372.6,302.6 H1398.6 M1372.6,332.6 H1398.6" stroke="#37c56f" stroke-width="4.0"/>
<path d="M1529.0,302.6 V332.6 M1516.0,302.6 H1542.0 M1516.0,332.6 H1542.0" stroke="#37c56f" stroke-width="4.0"/>
<path d="M525.3,621.4 V649.4 M512.3,621.4 H538.3 M512.3,649.4 H538.3" stroke="#6e6ea6" stroke-width="4.0"/>
<path d="M668.7,365.3 V393.3 M655.7,365.3 H681.7 M655.7,393.3 H681.7" stroke="#6e6ea6" stroke-width="4.0"/>
<path d="M812.1,290.8 V318.8 M799.1,290.8 H825.1 M799.1,318.8 H825.1" stroke="#6e6ea6" stroke-width="4.0"/>
<path d="M955.5,288.7 V316.7 M942.5,288.7 H968.5 M942.5,316.7 H968.5" stroke="#6e6ea6" stroke-width="4.0"/>
<path d="M1098.8,288.7 V316.7 M1085.8,288.7 H1111.8 M1085.8,316.7 H1111.8" stroke="#6e6ea6" stroke-width="4.0"/>
<path d="M1242.2,288.7 V316.7 M1229.2,288.7 H1255.2 M1229.2,316.7 H1255.2" stroke="#6e6ea6" stroke-width="4.0"/>
<path d="M1385.6,288.7 V316.7 M1372.6,288.7 H1398.6 M1372.6,316.7 H1398.6" stroke="#6e6ea6" stroke-width="4.0"/>
<path d="M1529.0,288.7 V316.7 M1516.0,288.7 H1542.0 M1516.0,316.7 H1542.0" stroke="#6e6ea6" stroke-width="4.0"/>
<path d="M525.3,650.3 V677.3 M512.3,650.3 H538.3 M512.3,677.3 H538.3" stroke="#80b0dc" stroke-width="4.0"/>
<path d="M668.7,422.5 V449.5 M655.7,422.5 H681.7 M655.7,449.5 H681.7" stroke="#80b0dc" stroke-width="4.0"/>
<path d="M812.1,364.0 V391.0 M799.1,364.0 H825.1 M799.1,391.0 H825.1" stroke="#80b0dc" stroke-width="4.0"/>
<path d="M955.5,364.0 V391.0 M942.5,364.0 H968.5 M942.5,391.0 H968.5" stroke="#80b0dc" stroke-width="4.0"/>
<path d="M1098.8,364.0 V391.0 M1085.8,364.0 H1111.8 M1085.8,391.0 H1111.8" stroke="#80b0dc" stroke-width="4.0"/>
<path d="M1242.2,364.0 V391.0 M1229.2,364.0 H1255.2 M1229.2,391.0 H1255.2" stroke="#80b0dc" stroke-width="4.0"/>
<path d="M1385.6,364.0 V391.0 M1372.6,364.0 H1398.6 M1372.6,391.0 H1398.6" stroke="#80b0dc" stroke-width="4.0"/>
<path d="M1529.0,364.0 V391.0 M1516.0,364.0 H1542.0 M1516.0,391.0 H1542.0" stroke="#80b0dc" stroke-width="4.0"/>
<path d="M525.3,658.9 V685.9 M512.3,658.9 H538.3 M512.3,685.9 H538.3" stroke="#d46404" stroke-width="4.0"/>
<path d="M668.7,440.8 V467.8 M655.7,440.8 H681.7 M655.7,467.8 H681.7" stroke="#d46404" stroke-width="4.0"/>
<path d="M812.1,382.8 V409.8 M799.1,382.8 H825.1 M799.1,409.8 H825.1" stroke="#d46404" stroke-width="4.0"/>
<path d="M955.5,382.8 V409.8 M942.5,382.8 H968.5 M942.5,409.8 H968.5" stroke="#d46404" stroke-width="4.0"/>
<path d="M1098.8,382.8 V409.8 M1085.8,382.8 H1111.8 M1085.8,409.8 H1111.8" stroke="#d46404" stroke-width="4.0"/>
<path d="M1242.2,382.8 V409.8 M1229.2,382.8 H1255.2 M1229.2,409.8 H1255.2" stroke="#d46404" stroke-width="4.0"/>
<path d="M1385.6,382.8 V409.8 M1372.6,382.8 H1398.6 M1372.6,409.8 H1398.6" stroke="#d46404" stroke-width="4.0"/>
<path d="M1529.0,382.8 V409.8 M1516.0,382.8 H1542.0 M1516.0,409.8 H1542.0" stroke="#d46404" stroke-width="4.0"/>
</g>
<rect x="238.0" y="34.4" width="1482.85" height="1194.1499999999999" fill="none" stroke="#000" stroke-width="8.5"/>
<path d="M382.0,1228.5 V1205.3 M668.7,1228.5 V1205.3 M955.5,1228.5 V1205.3 M1242.2,1228.5 V1205.3 M1529.0,1228.5 V1205.3 M238.0,1063.9 H261.0 M238.0,734.5 H261.0 M238.0,405.2 H261.0 M238.0,75.8 H261.0" stroke="#000" stroke-width="8" fill="none"/>
<g font-family="'Liberation Serif','Times New Roman',serif" fill="#1a1a1a" stroke="#fff" stroke-width="1.0">
<text transform="translate(382.0,1307.4) scale(0.955,1)" text-anchor="middle" font-size="72">0</text>
<text transform="translate(668.7,1307.4) scale(0.955,1)" text-anchor="middle" font-size="72">300</text>
<text transform="translate(955.5,1307.4) scale(0.955,1)" text-anchor="middle" font-size="72">600</text>
<text transform="translate(1242.2,1307.4) scale(0.955,1)" text-anchor="middle" font-size="72">900</text>
<text transform="translate(1529.0,1307.4) scale(0.955,1)" text-anchor="middle" font-size="72">1200</text>
<text transform="translate(213.0,1085.5) scale(0.95,1)" text-anchor="end" font-size="72">0.00</text>
<text transform="translate(213.0,756.1) scale(0.95,1)" text-anchor="end" font-size="72">0.08</text>
<text transform="translate(213.0,426.8) scale(0.95,1)" text-anchor="end" font-size="72">0.16</text>
<text transform="translate(213.0,97.4) scale(0.95,1)" text-anchor="end" font-size="72">0.24</text>
<text transform="translate(979.0,1391.5) scale(0.975,1)" text-anchor="middle" font-size="71">Time (min)</text>
<text transform="translate(66.6,631.2) rotate(-90)" x="0" y="0" text-anchor="middle" font-size="68">HCl capacity (g)</text>
</g>
<path d="M1362,509.0 H1507" stroke="#ef3a3a" stroke-width="6.5" fill="none"/>
<path d="M1362,585.4 H1507" stroke="#2f62a0" stroke-width="6.5" fill="none"/>
<path d="M1362,661.8 H1507" stroke="#ffd447" stroke-width="6.5" fill="none"/>
<path d="M1362,738.2 H1507" stroke="#3cc46e" stroke-width="6.5" fill="none"/>
<path d="M1362,814.6 H1507" stroke="#6a6aa6" stroke-width="6.5" fill="none"/>
<path d="M1362,891.0 H1507" stroke="#a6a6a6" stroke-width="6.5" fill="none"/>
<path d="M1362,967.3 H1507" stroke="#ff5a5a" stroke-width="6.5" fill="none"/>
<path d="M1362,1043.7 H1507" stroke="#80acd8" stroke-width="6.5" fill="none"/>
<path d="M1362,1120.1 H1507" stroke="#c86000" stroke-width="6.5" fill="none"/>
<g font-family="'Liberation Sans',Arial,sans-serif" font-size="64" fill="#1a1a1a" stroke="#fff" stroke-width="1.2">
<text transform="translate(1520.5,531.3) scale(0.965,1)">0%</text>
<text transform="translate(1520.5,607.7) scale(0.965,1)">2%</text>
<text transform="translate(1520.5,684.1) scale(0.965,1)">4%</text>
<text transform="translate(1520.5,760.5) scale(0.965,1)">6%</text>
<text transform="translate(1520.5,836.9) scale(0.965,1)">8%</text>
<text transform="translate(1520.5,913.2) scale(0.965,1)">10%</text>
<text transform="translate(1520.5,989.6) scale(0.965,1)">12%</text>
<text transform="translate(1520.5,1066.0) scale(0.965,1)">14%</text>
<text transform="translate(1520.5,1142.4) scale(0.965,1)">16%</text>
</g>
</svg>
</body></html>
